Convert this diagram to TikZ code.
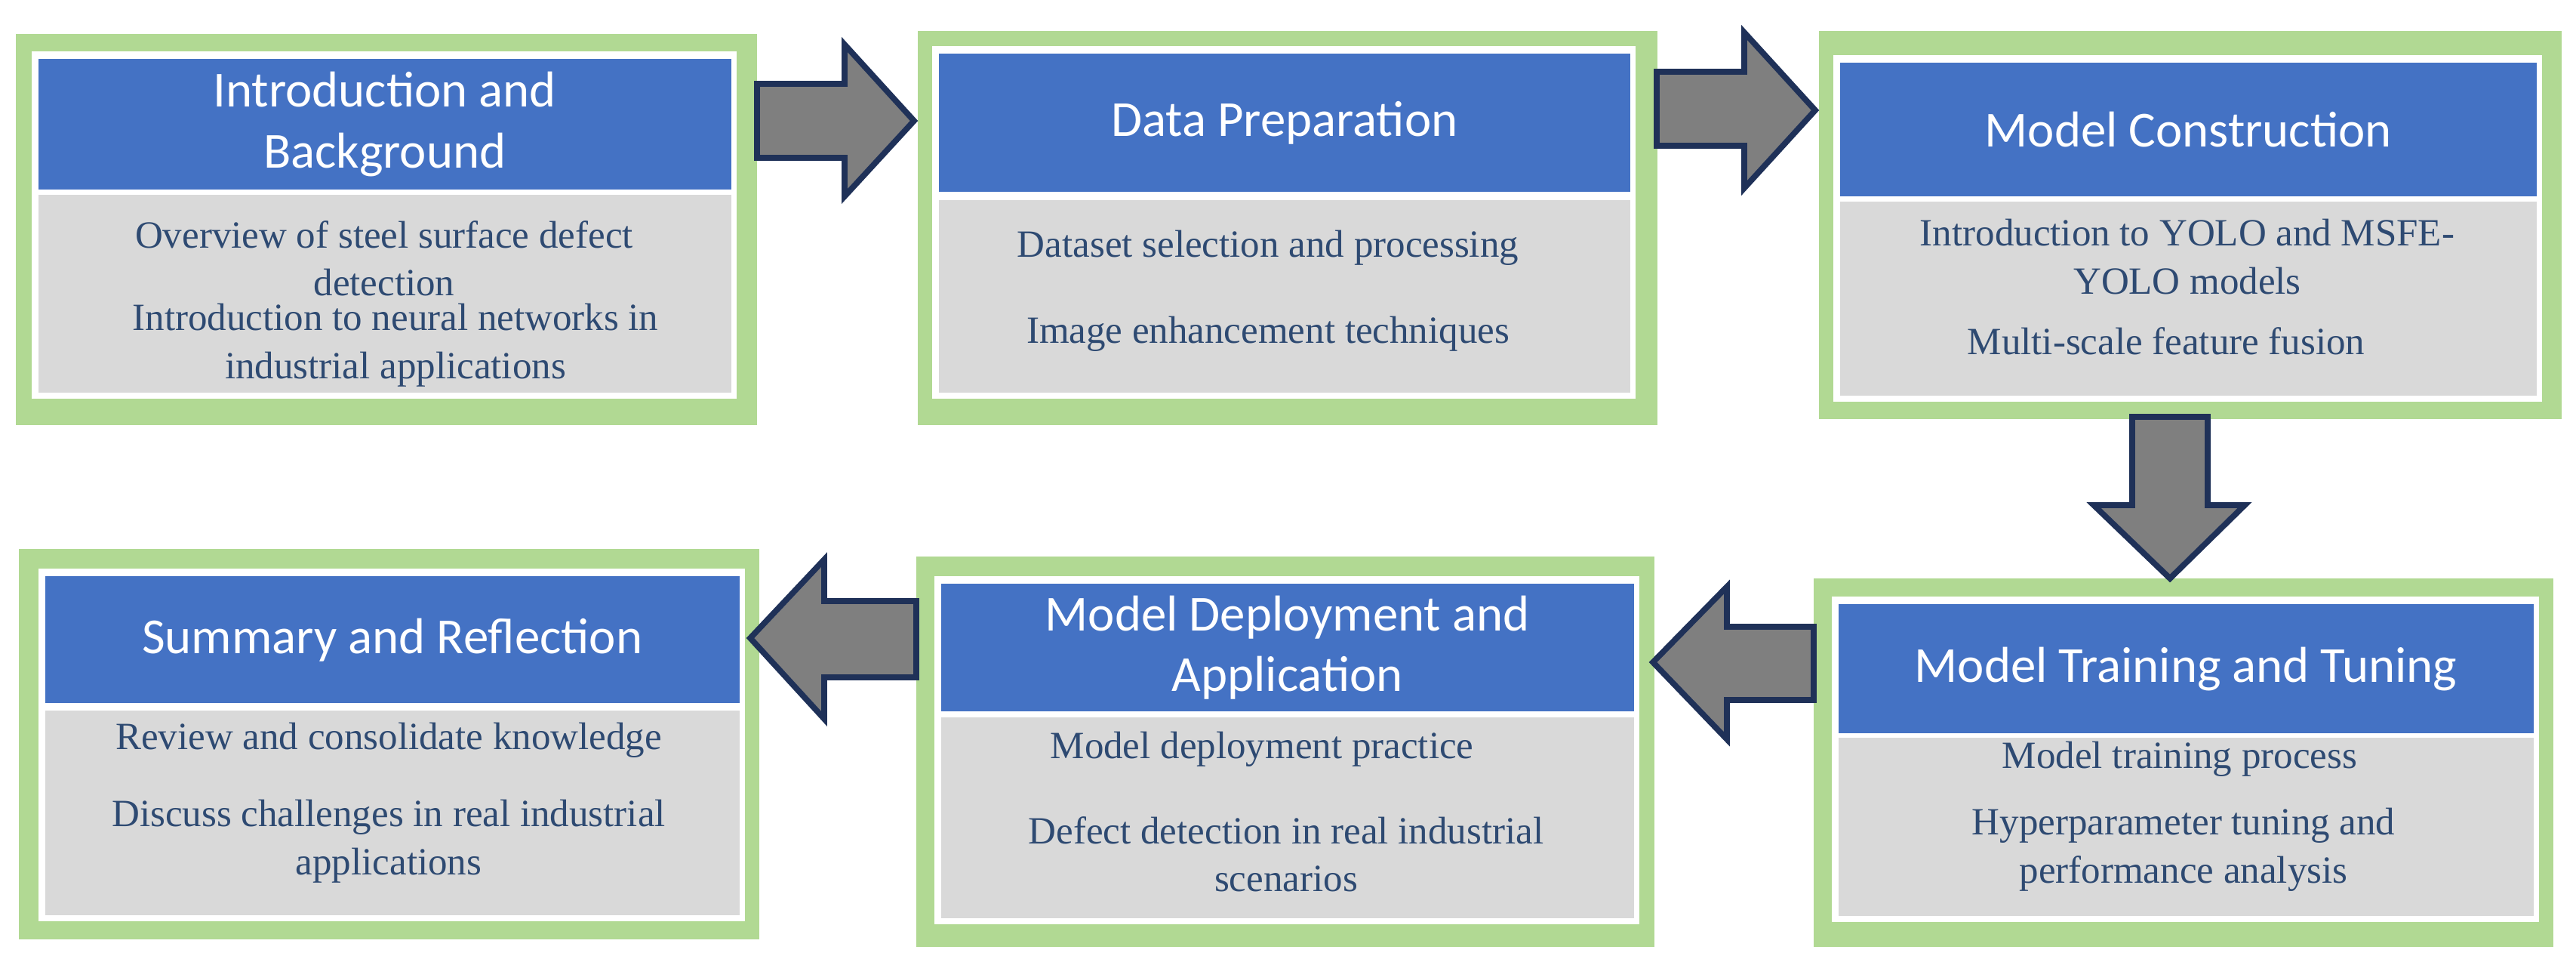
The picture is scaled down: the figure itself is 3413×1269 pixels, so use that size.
\documentclass[tikz,border=0pt]{standalone}
\usepackage{fontspec}
\setmainfont{Liberation Serif}
\newfontfamily\headf{Carlito}
\definecolor{frameg}{HTML}{B1D993}
\definecolor{hblue}{HTML}{4472C4}
\definecolor{bgrey}{HTML}{D9D9D9}
\definecolor{txtb}{HTML}{2E4A72}
\definecolor{arrg}{HTML}{7F7F7F}
\definecolor{arrl}{HTML}{1F3158}
\tikzset{
  frame/.style={fill=frameg,draw=none},
  gap/.style={fill=white,draw=none},
  head/.style={fill=hblue,draw=none},
  body/.style={fill=bgrey,draw=none},
  htext/.style={text=white,font=\headf\fontsize{19}{23}\selectfont,align=center},
  btext/.style={text=txtb,font=\fontsize{14.5}{18}\selectfont,align=center},
  bigarrow/.style={fill=arrg,draw=arrl,line width=2.2pt,line join=miter}
}
% \mybox{name}{ox1}{oy1}{ox2}{oy2}{ix1}{ix2}{by1}{by2}{gy1}{gy2}{title}{body}
\newcommand{\mybox}[9]{%
  \fill[frame] (#2,#3) rectangle (#4,#5);
  \fill[gap] ({#6-8},{#8-9}) rectangle ({#7+8},#9);
  \node[head,anchor=north west,minimum width={(#7-#6)*0.01cm},minimum height={(#9-#8)*0.01cm},inner sep=0pt] (#1h) at (#6,#8) {};
}
\newcommand{\mybody}[5]{%
  \node[body,anchor=north west,minimum width={(#3-#2)*0.01cm},minimum height={(#5-#4)*0.01cm},inner sep=0pt] (#1b) at (#2,#4) {};
}
\begin{document}
\begin{tikzpicture}[x=0.01cm,y=-0.01cm]
\useasboundingbox (0,0) rectangle (3413,1269);
% Box 1
\mybox{a}{21}{45}{1003}{563}{50}{968}{77}{251}
\fill[gap] (42,251) rectangle (976,528);
\mybody{a}{50}{968}{257}{519}
% Box 2
\mybox{b}{1216}{41}{2196}{563}{1243}{2159}{70}{254}
\fill[gap] (1235,254) rectangle (2167,528);
\mybody{b}{1243}{2159}{264}{519}
% Box 3
\mybox{c}{2410}{41}{3394}{555}{2437}{3360}{82}{260}
\fill[gap] (2429,260) rectangle (3368,532);
\mybody{c}{2437}{3360}{266}{523}
% Box 4
\mybox{d}{25}{727}{1006}{1244}{59}{979}{762}{931}
\fill[gap] (51,931) rectangle (987,1220);
\mybody{d}{59}{979}{940}{1211}
% Box 5
\mybox{e}{1214}{737}{2192}{1254}{1246}{2164}{772}{942}
\fill[gap] (1238,942) rectangle (2172,1224);
\mybody{e}{1246}{2164}{949}{1215}
% Box 6
\mybox{f}{2403}{766}{3383}{1254}{2435}{3356}{799}{971}
\fill[gap] (2427,971) rectangle (3364,1221);
\mybody{f}{2435}{3356}{976}{1212}

% titles
\node[htext] (ta) at (ah.center) {Introduction and\\Background};
\node[htext] (tb) at (bh.center) {Data Preparation};
\node[htext] (tc) at (ch.center) {Model Construction};
\node[htext] (td) at (dh.center) {Summary and Reflection};
\node[htext] (te) at (eh.center) {Model Deployment and\\Application};
\node[htext] (tf) at (fh.center) {Model Training and Tuning};

% body texts
\node[btext,anchor=north] (xa1) at (509,280) {Overview of steel surface defect\\detection};
\node[btext,anchor=north] (xa2) at (524,390) {Introduction to neural networks in\\industrial applications};
\node[btext] (xb1) at (1680,328) {Dataset selection and processing};
\node[btext] (xb2) at (1680,442) {Image enhancement techniques};
\node[btext,anchor=north] (xc1) at (2898,278) {Introduction to YOLO and MSFE-\\YOLO models};
\node[btext] (xc2) at (2870,452) {Multi-scale feature fusion};
\node[btext] (xd1) at (515,980) {Review and consolidate knowledge};
\node[btext,anchor=north] (xd2) at (515,1047) {Discuss challenges in real industrial\\applications};
\node[btext] (xe1) at (1672,992) {Model deployment practice};
\node[btext,anchor=north] (xe2) at (1704,1069) {Defect detection in real industrial\\scenarios};
\node[btext] (xf1) at (2888,1005) {Model training process};
\node[btext,anchor=north] (xf2) at (2893,1058) {Hyperparameter tuning and\\performance analysis};

% arrows
\coordinate (r1) at (1211,160);
\draw[bigarrow] (1003,111) -- (1119,111) -- (1119,59) -- (r1) -- (1119,260) -- (1119,209) -- (1003,209) -- cycle;
\coordinate (r2) at (2405,146);
\draw[bigarrow] (2195,95) -- (2311,95) -- (2311,43) -- (r2) -- (2311,249) -- (2311,193) -- (2195,193) -- cycle;
\coordinate (dn) at (2875,766);
\draw[bigarrow] (2825,552) -- (2925,552) -- (2925,669) -- (2974,669) -- (dn) -- (2774,669) -- (2825,669) -- cycle;
\coordinate (l1) at (2190,877);
\draw[bigarrow] (2403,830) -- (2288,830) -- (2288,777) -- (l1) -- (2288,979) -- (2288,927) -- (2403,927) -- cycle;
\coordinate (l2) at (994,845);
\draw[bigarrow] (1214,796) -- (1092,796) -- (1092,741) -- (l2) -- (1092,952) -- (1092,897) -- (1214,897) -- cycle;
\end{tikzpicture}
\end{document}
